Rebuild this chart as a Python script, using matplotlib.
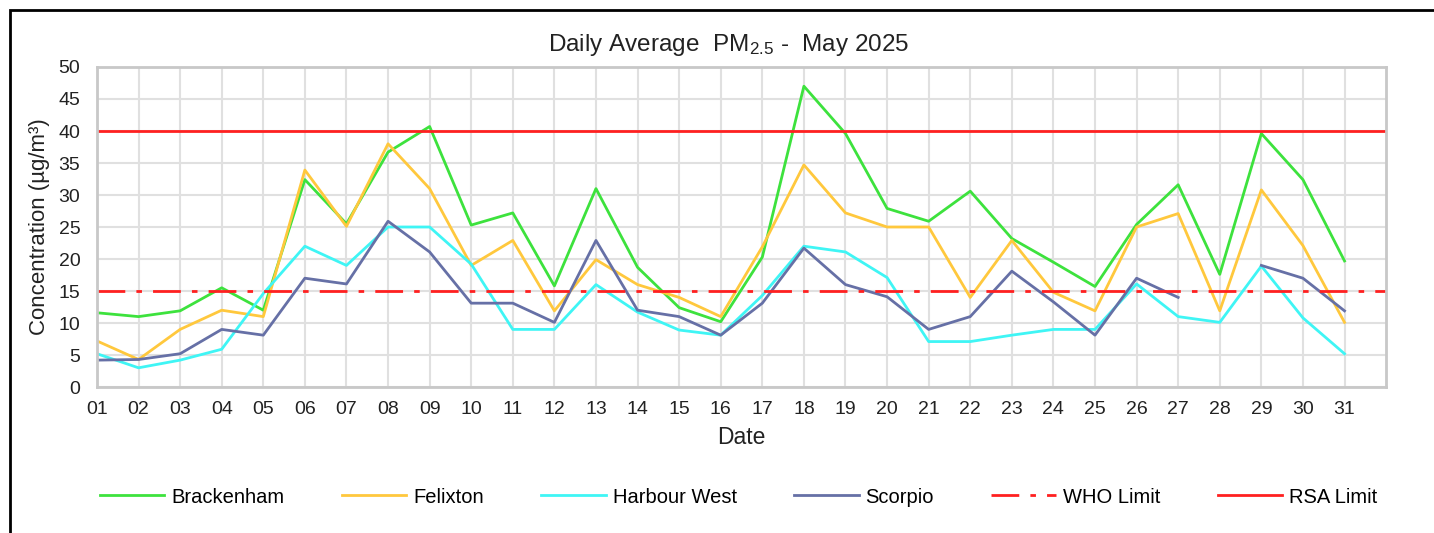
import numpy as np
import matplotlib
matplotlib.use("Agg")
from matplotlib import pyplot as plt
from matplotlib.patches import Rectangle

plt.rcParams['font.family'] = ['Liberation Sans', 'DejaVu Sans']
plt.rcParams['mathtext.default'] = 'regular'

days = [f"{d:02d}" for d in range(1, 32)]

brackenham = [11.6, 11.0, 11.9, 15.5, 12.0, 32.4, 25.5, 36.7, 40.7, 25.3,
              27.2, 15.8, 31.0, 18.7, 12.4, 10.2, 20.3, 47.0, 39.6, 27.9,
              25.9, 30.6, 23.2, 19.5, 15.7, 25.4, 31.6, 17.6, 39.6, 32.4, 19.7]
felixton = [7.2, 4.3, 9.0, 12.0, 11.0, 33.9, 25.1, 38.0, 31.0, 19.0,
            22.9, 11.9, 19.9, 16.0, 14.0, 11.0, 21.9, 34.7, 27.2, 25.0,
            25.0, 14.0, 22.9, 14.8, 11.9, 25.0, 27.1, 11.9, 30.8, 22.1, 10.1]
harbour_west = [5.2, 3.0, 4.2, 5.9, 14.6, 22.0, 19.0, 25.0, 25.0, 19.2,
                9.0, 9.0, 16.0, 11.7, 8.9, 8.1, 14.3, 22.0, 21.1, 17.1,
                7.1, 7.1, 8.1, 9.0, 9.0, 16.1, 11.0, 10.1, 18.9, 10.8, 5.2]
scorpio = [4.2, 4.3, 5.2, 9.0, 8.1, 17.0, 16.1, 25.9, 21.1, 13.1,
           13.1, 10.1, 22.9, 12.0, 11.0, 8.1, 13.1, 21.7, 16.0, 14.1,
           9.0, 11.0, 18.1, 13.3, 8.1, 17.0, 14.0, np.nan, 19.0, 17.0, 11.9]
who_limit = 15
rsa_limit = 40

x = np.arange(1, 32)

fig = plt.figure(figsize=(14.34, 5.33), dpi=100)
ax = fig.add_axes([0.0676, 0.2739, 0.899, 0.6004])

ax.plot(x, brackenham, color="#3de23d", lw=2, label="Brackenham")
ax.plot(x, felixton, color="#ffc83d", lw=2, label="Felixton")
ax.plot(x, harbour_west, color="#3ff5f5", lw=2, label="Harbour West")
ax.plot(x, scorpio, color="#6670a6", lw=2, label="Scorpio")
ax.axhline(who_limit, color="#ff2020", lw=2, dashes=(10, 4, 2, 4), label="WHO Limit")
ax.axhline(rsa_limit, color="#ff2020", lw=2, label="RSA Limit")

ax.set_xlim(1, 32)
ax.set_ylim(0, 50)
ax.set_xticks(x)
ax.set_xticklabels(days)
ax.set_yticks(range(0, 51, 5))
ax.tick_params(length=0, labelsize=14, colors="#222222")
ax.tick_params(axis="y", pad=12)
ax.tick_params(axis="x", pad=10)
ax.grid(True, color="#e0e0e0", lw=1.5)
ax.set_axisbelow(True)
for s in ax.spines.values():
    s.set_color("#c8c8c8")
    s.set_linewidth(2)

ax.set_xlabel("Date", fontsize=16.5, color="#222222", labelpad=6)
ax.set_ylabel("Concentration (µg/m³)", fontsize=16, color="#222222", labelpad=6)
fig.text(0.508, 0.915, "Daily Average  PM$_{2.5}$ -  May 2025", fontsize=17.5,
         ha="center", va="center", color="#222222")

fig.legend(loc="center", bbox_to_anchor=(0.515, 0.0675), ncol=6, frameon=False,
           fontsize=14.5, handlelength=3.2, columnspacing=2.85, handletextpad=0.35)

# outer frame
fig.patches.append(Rectangle((10 / 1434, -0.05), 1.1, 1.05 - 10 / 533,
                             transform=fig.transFigure, fill=False,
                             edgecolor="black", lw=2))

fig.savefig("out.png", dpi=100)
